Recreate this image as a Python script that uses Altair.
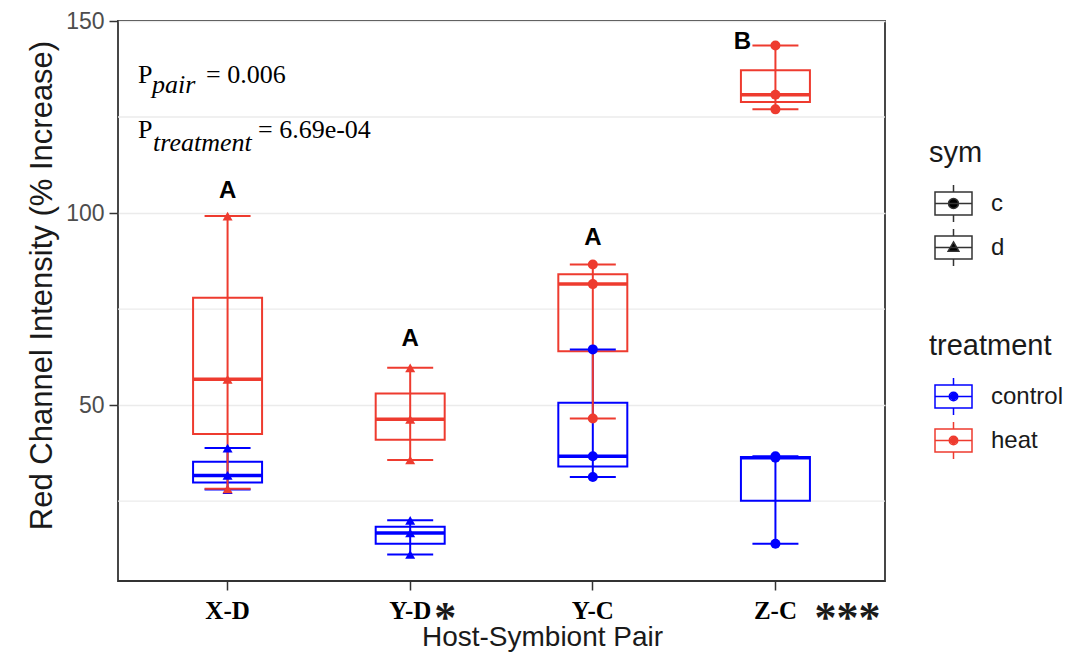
import altair as alt
import pandas as pd

# ---------------- data ----------------
pairs = ["X-D", "Y-D", "Y-C", "Z-C"]
pair_sym = ["d", "d", "c", "c"]
treatments = ["control", "heat"]
control_vals = [[28.0, 31.7, 38.8], [11.1, 16.7, 20.0], [31.3, 36.7, 64.5], [13.9, 36.3, 36.7]]
heat_vals = [[28.2, 56.7, 99.2], [35.7, 46.3, 59.7], [46.5, 81.5, 86.6], [127.0, 130.8, 143.6]]
letters = ["A", "A", "A", "B"]
letter_y = [104.0, 65.4, 91.8, 142.6]
stars = ["", "*", "", "***"]
y_major = [50, 100, 150]
y_minor = [25, 75, 125]
sym_levels = ["c", "d"]
colors = ["#0000FF", "#EE3B2F"]

rows = []
for t, vals in zip(treatments, [control_vals, heat_vals]):
    for p, s, vv in zip(pairs, pair_sym, vals):
        for v in vv:
            rows.append({"pair": p, "sym": s, "treatment": t, "value": v})
df = pd.DataFrame(rows)
ann_df = pd.DataFrame({"pair": pairs, "letter": letters, "ly": letter_y, "star": stars})
minor_df = pd.DataFrame({"v": y_minor})
one = pd.DataFrame({"k": [0]})
dummy = pd.DataFrame({"sym": sym_levels, "treatment": treatments})

# ---------------- encodings ----------------
xsc = alt.Scale(type="band", domain=pairs, paddingInner=0, paddingOuter=0.1)
ysc = alt.Scale(domain=[4.2, 150], nice=False, zero=False)
X = alt.X("pair:N", scale=xsc, sort=pairs,
          axis=alt.Axis(title="Host-Symbiont Pair", labelAngle=0,
                        labelFont="Liberation Serif", labelFontWeight="bold",
                        labelFontSize=25, labelColor="black", labelPadding=8,
                        titleFontSize=28, titlePadding=0, titleColor="#1A1A1A",
                        titleX=424, titleAlign="center"))
col = alt.Color("treatment:N", scale=alt.Scale(domain=treatments, range=colors), legend=None)

def Y(field):
    return alt.Y(field, scale=ysc,
                 axis=alt.Axis(values=y_major, title="Red Channel Intensity (% Increase)",
                               labelFontSize=23, labelColor="#4D4D4D", labelPadding=5,
                               titleFontSize=31, titlePadding=7, titleColor="#1A1A1A",
                               titleY=264, titleAlign="center"))

agg = alt.Chart(df).transform_aggregate(
    vmin="min(value)", q1="q1(value)", med="median(value)", q3="q3(value)", vmax="max(value)",
    groupby=["pair", "treatment"]
)

minor = alt.Chart(minor_df).mark_rule(color="#EBEBEB", strokeWidth=1.3).encode(y=Y("v:Q"))

boxes = agg.mark_bar(filled=False, size=69, strokeWidth=2, opacity=1).encode(
    x=X, y=Y("q1:Q"), y2="q3:Q", color=col)
medians = agg.mark_tick(size=69, thickness=3.5, opacity=1).encode(x=X, y=Y("med:Q"), color=col)
whisk = agg.mark_rule(strokeWidth=2).encode(x=X, y=Y("vmin:Q"), y2="vmax:Q", color=col)
cap_lo = agg.mark_tick(size=46, thickness=2, opacity=1).encode(x=X, y=Y("vmin:Q"), color=col)
cap_hi = agg.mark_tick(size=46, thickness=2, opacity=1).encode(x=X, y=Y("vmax:Q"), color=col)
points = alt.Chart(df).mark_point(filled=True, size=100, opacity=1).encode(
    x=X, y=Y("value:Q"), color=col,
    shape=alt.Shape("sym:N", scale=alt.Scale(domain=sym_levels, range=["circle", "triangle-up"]), legend=None))

letA = alt.Chart(ann_df).transform_filter("datum.letter == 'A'").mark_text(
    font="Liberation Sans", fontWeight="bold", fontSize=24, baseline="alphabetic", color="black"
).encode(x=X, y=Y("ly:Q"), text="letter:N")
letB = alt.Chart(ann_df).transform_filter("datum.letter == 'B'").mark_text(
    font="Liberation Sans", fontWeight="bold", fontSize=24, baseline="alphabetic", color="black", dx=-33
).encode(x=X, y=Y("ly:Q"), text="letter:N")

star1 = alt.Chart(ann_df).transform_filter("datum.pair == 'Y-D'").mark_text(
    font="Liberation Serif", fontSize=44, fontWeight="bold", align="left", baseline="alphabetic",
    color="#1A1A1A", dx=24
).encode(x=X, y=alt.value(611), text="star:N")
star3 = alt.Chart(ann_df).transform_filter("datum.pair == 'Z-C'").mark_text(
    font="Liberation Serif", fontSize=44, fontWeight="bold", align="left", baseline="alphabetic",
    color="#1A1A1A", dx=39
).encode(x=X, y=alt.value(611), text="star:N")

def txt(s, x, y, italic=False, size=26):
    kw = dict(text=s, font="Liberation Serif", fontSize=size, align="left",
              baseline="alphabetic", color="black")
    if italic:
        kw["fontStyle"] = "italic"
    return alt.Chart(one).mark_text(**kw).encode(x=alt.value(x), y=alt.value(y))

ptxt = [
    txt("P", 20, 62), txt("pair", 34, 72, italic=True), txt("= 0.006", 88, 62),
    txt("P", 20, 117), txt("treatment", 35, 130, italic=True), txt("= 6.69e-04", 140, 117),
]

# legend glyphs (boxplot keys) as custom symbol paths
frame = "M-1,-0.62H1V0.62H-1Z M-1,-0.62V0.62H1V-0.62Z M-1,0H1 M0,-0.62V-1 M0,0.62V1 "
dot = "M0.27,0A0.27,0.27 0 1,1 -0.27,0A0.27,0.27 0 1,1 0.27,0Z"
tri = "M0,-0.3L0.29,0.2L-0.29,0.2Z"
# dot drawn with strokes only (concentric rings) so it takes the stroke colour
ring_dot = " ".join(
    f"M{r},0A{r},{r} 0 1,1 -{r},0A{r},{r} 0 1,1 {r},0" for r in (0.23, 0.155, 0.08, 0.02)
)
glyph_c = frame + dot
glyph_d = frame + tri
glyph_t = "M-1,-0.62H1V0.62H-1Z M-1,0H1 M0,-0.62V-1 M0,0.62V1 " + ring_dot

leg_common = dict(orient="none", symbolSize=1369, symbolStrokeWidth=1.5, symbolOffset=5,
                  labelOffset=18, rowPadding=1, titlePadding=16, padding=0,
                  titleFontSize=29, titleFontWeight="normal", titleColor="#1A1A1A",
                  labelFontSize=24, labelColor="#1A1A1A", titleFont="Liberation Sans",
                  labelFont="Liberation Sans")
sym_leg = alt.Legend(title="sym", legendX=811, legendY=118, **leg_common)
trt_leg = alt.Legend(title="treatment", legendX=811, legendY=311, symbolType=glyph_t, **leg_common)

leg1 = alt.Chart(dummy).transform_filter("false").mark_point(
    filled=True, fill="black", stroke="#333333", strokeWidth=1.5, opacity=1
).encode(shape=alt.Shape("sym:N", scale=alt.Scale(domain=sym_levels, range=[glyph_c, glyph_d]), legend=sym_leg))
leg2 = alt.Chart(dummy).transform_filter("false").mark_point(
    filled=False, shape=glyph_t, strokeWidth=1.5, opacity=1
).encode(color=alt.Color("treatment:N", scale=alt.Scale(domain=treatments, range=colors), legend=trt_leg))

chart = alt.layer(
    minor, boxes, medians, whisk, cap_lo, cap_hi, points, letA, letB, star1, star3, *ptxt, leg1, leg2
).resolve_scale(shape="independent", color="independent").properties(
    width=767, height=560, padding={"left": 18, "top": 2, "right": 5, "bottom": 5}
).configure(font="Liberation Sans").configure_view(
    stroke="#333333", strokeWidth=1.8
).configure_axis(
    gridColor="#EBEBEB", gridWidth=1.5, domain=False, tickColor="#333333",
    tickWidth=1.5, tickSize=9, titleFontWeight="normal"
)

chart.save("out.html", embed_options={"renderer": "svg", "actions": False})
